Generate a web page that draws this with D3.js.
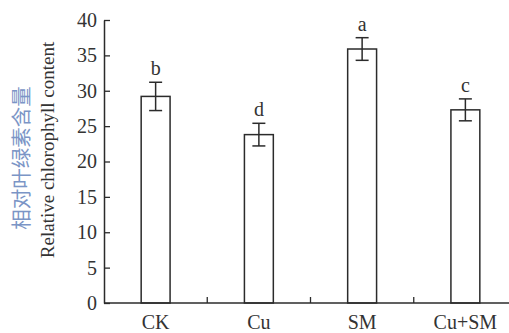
<!DOCTYPE html>
<html>
<head>
<meta charset="utf-8">
<script src="https://cdn.jsdelivr.net/npm/d3@7"></script>
<style>
    body { margin: 0; background: #fff; }
    svg text { font-family: "Liberation Serif", "Times New Roman", serif; }
</style>
</head>
<body>
<svg id="chart" width="509" height="333"></svg>
<script>
var groups = ['CK', 'Cu', 'SM', 'Cu+SM'];
var values = [29.2, 23.8, 35.9, 27.3];
var errors = [2.0, 1.6, 1.6, 1.55];
var letters = ['b', 'd', 'a', 'c'];
var yticks = [0, 5, 10, 15, 20, 25, 30, 35, 40];

var ink = '#2b2b2b';
var svg = d3.select('#chart');

var x = d3.scaleBand()
    .domain(groups)
    .range([104, 517])
    .paddingInner(0.72)
    .paddingOuter(0.36);

var y = d3.scaleLinear().domain([0, 40]).range([303, 20]);

// y axis, ticks point inward
var yAxis = svg.append('g')
    .attr('transform', 'translate(104,0)')
    .call(d3.axisLeft(y).tickValues(yticks).tickSizeInner(-6).tickSizeOuter(0).tickPadding(7));
yAxis.select('.domain').attr('stroke', ink).attr('stroke-width', 1.5);
yAxis.selectAll('.tick line').attr('stroke', ink).attr('stroke-width', 1.3);
yAxis.selectAll('.tick text')
    .attr('fill', '#333')
    .style('font-size', '20px')
    .style('font-family', '"Liberation Serif", serif');

// x axis baseline + separators between groups
svg.append('line')
    .attr('x1', 104).attr('x2', 509)
    .attr('y1', y(0)).attr('y2', y(0))
    .attr('stroke', ink).attr('stroke-width', 1.5);

var bounds = groups.slice(1).map(function (g) {
    return x(g) - x.step() * x.paddingInner() / 2;
});
svg.selectAll('.sep').data(bounds).enter().append('line')
    .attr('x1', function (d) { return d; }).attr('x2', function (d) { return d; })
    .attr('y1', y(0)).attr('y2', y(0) - 6)
    .attr('stroke', ink).attr('stroke-width', 1.3);

svg.selectAll('.xlab').data(groups).enter().append('text')
    .attr('x', function (d) { return x(d) + x.bandwidth() / 2; })
    .attr('y', 329)
    .attr('text-anchor', 'middle')
    .attr('fill', '#333')
    .style('font-size', '20px')
    .text(function (d) { return d; });

// bars
var data = groups.map(function (g, i) {
    return { g: g, v: values[i], e: errors[i], l: letters[i] };
});

svg.selectAll('.bar').data(data).enter().append('rect')
    .attr('x', function (d) { return x(d.g); })
    .attr('y', function (d) { return y(d.v); })
    .attr('width', x.bandwidth())
    .attr('height', function (d) { return y(0) - y(d.v); })
    .attr('fill', 'none')
    .attr('stroke', ink)
    .attr('stroke-width', 1.5);

// error bars
var cap = 6.5;
var eb = svg.selectAll('.err').data(data).enter().append('g')
    .attr('transform', function (d) { return 'translate(' + (x(d.g) + x.bandwidth() / 2) + ',0)'; });
eb.append('line')
    .attr('y1', function (d) { return y(d.v + d.e); })
    .attr('y2', function (d) { return y(d.v - d.e); })
    .attr('stroke', ink).attr('stroke-width', 1.5);
eb.append('line')
    .attr('x1', -cap).attr('x2', cap)
    .attr('y1', function (d) { return y(d.v + d.e); })
    .attr('y2', function (d) { return y(d.v + d.e); })
    .attr('stroke', ink).attr('stroke-width', 1.5);
eb.append('line')
    .attr('x1', -cap).attr('x2', cap)
    .attr('y1', function (d) { return y(d.v - d.e); })
    .attr('y2', function (d) { return y(d.v - d.e); })
    .attr('stroke', ink).attr('stroke-width', 1.5);
eb.append('text')
    .attr('y', function (d) { return y(d.v + d.e) - 7; })
    .attr('text-anchor', 'middle')
    .attr('fill', '#333')
    .style('font-size', '20px')
    .text(function (d) { return d.l; });

// axis titles
svg.append('text')
    .attr('transform', 'translate(29,158) rotate(-90)')
    .attr('text-anchor', 'middle')
    .attr('fill', '#7b95c6')
    .style('font-family', '"Noto Sans CJK SC", sans-serif')
    .style('font-size', '20.5px')
    .text('相对叶绿素含量');

svg.append('text')
    .attr('transform', 'translate(54,150) rotate(-90)')
    .attr('text-anchor', 'middle')
    .attr('fill', '#333')
    .style('font-size', '19px')
    .text('Relative chlorophyll content');
</script>
</body>
</html>
